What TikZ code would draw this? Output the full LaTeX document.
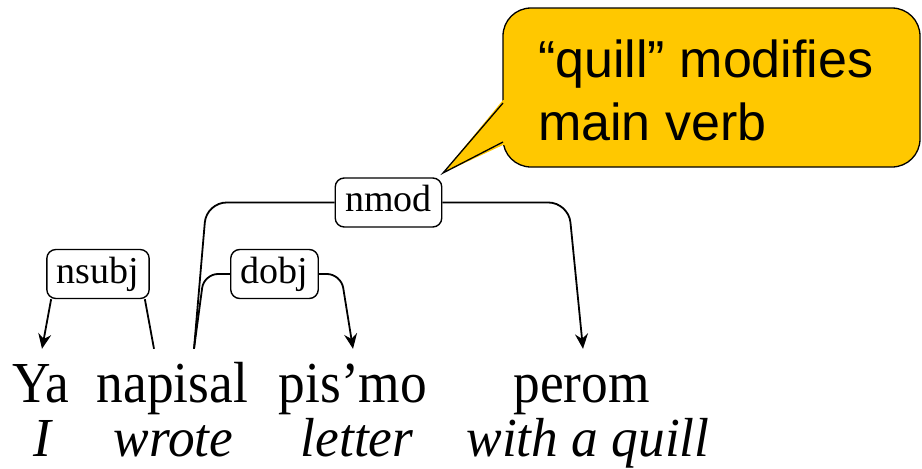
\documentclass[tikz,border=0pt]{standalone}
\usepackage{graphicx}
\usepackage{fontspec}
\setmainfont{Liberation Serif}
\newfontfamily\calloutfont{Liberation Sans}
\usetikzlibrary{arrows.meta,calc}
\definecolor{calloutgold}{RGB}{255,200,0}
% narrow the running text a little
\newcommand{\narrowtext}[2][0.92]{\scalebox{#1}[1]{#2}}
\begin{document}
\begin{tikzpicture}[x=1pt,y=-1pt,
  word/.style={anchor=base, inner xsep=0pt, inner ysep=13pt, text height=40pt,
               font=\fontsize{58}{60}\selectfont},
  gloss/.style={anchor=base, inner sep=0pt, font=\fontsize{55}{60}\selectfont\itshape},
  rel/.style={draw, line width=1.4pt, rounded corners=9pt, inner xsep=10pt, inner ysep=0pt,
              text height=26pt, text depth=8pt, minimum height=49pt,
              font=\fontsize{38}{40}\selectfont},
  dep/.style={line width=1.8pt},
  head/.style={dep, -{Stealth[length=15pt,width=13pt,inset=5pt]}}]
\useasboundingbox (0,0) rectangle (922,469);

% sentence and gloss
\node[word] (ya)    at (40.5,402) {\narrowtext{Ya}};
\node[word] (nap)   at (172.5,402) {\narrowtext{napisal}};
\node[word] (pis)   at (353,402) {\narrowtext{pis’mo}};
\node[word] (perom) at (581.5,402) {\narrowtext{perom}};

\node[gloss] (gI)      at (42,456) {\narrowtext[0.97]{I}};
\node[gloss] (gwrote)  at (173.5,456) {\narrowtext[0.97]{wrote}};
\node[gloss] (gletter) at (357,456) {\narrowtext[0.97]{letter}};
\node[gloss] (gquill)  at (588,456) {\narrowtext[0.97]{with a quill}};

% relation labels
\node[rel] (nsubj) at (98,274) {nsubj};
\node[rel] (dobj)  at (274.5,274) {dobj};
\node[rel] (nmod)  at (388.5,202.5) {nmod};

% dependency arcs
\draw[head] ([xshift=5pt]nsubj.south west) -- ([xshift=1.5pt]ya.north);
\draw[dep]  ([xshift=-5pt]nsubj.south east) -- ([xshift=-18.5pt]nap.north);

\draw[dep, rounded corners=14pt] (dobj.west) -- ($(dobj.west)+(-26,0)$) -- ([xshift=21.5pt]nap.north);
\draw[head, rounded corners=14pt] (dobj.east) -- ($(dobj.east)+(22,0)$) -- (pis.north);

\draw[dep, rounded corners=20pt] (nmod.west) -- ($(nmod.west)+(-128,0)$) -- ([xshift=21.5pt]nap.north);
\draw[head, rounded corners=20pt] (nmod.east) -- ($(nmod.east)+(126,0)$) -- ([xshift=1.5pt]perom.north);

% speech bubble
\draw[fill=calloutgold, line width=1.3pt, rounded corners=28pt] (503,8) rectangle (920,167);
\fill[calloutgold] (443,173) -- (503,100) -- (507,100) -- (507,145) -- (503,145) -- cycle;
\draw[line width=1.3pt, line join=miter] (503,103) -- (443,173) -- (503,142);
\node[anchor=base west, align=left, inner sep=0pt,
      font=\calloutfont\fontsize{52}{63}\selectfont] (note) at (538,140)
  {“quill” modifies\\main verb};
\end{tikzpicture}
\end{document}
